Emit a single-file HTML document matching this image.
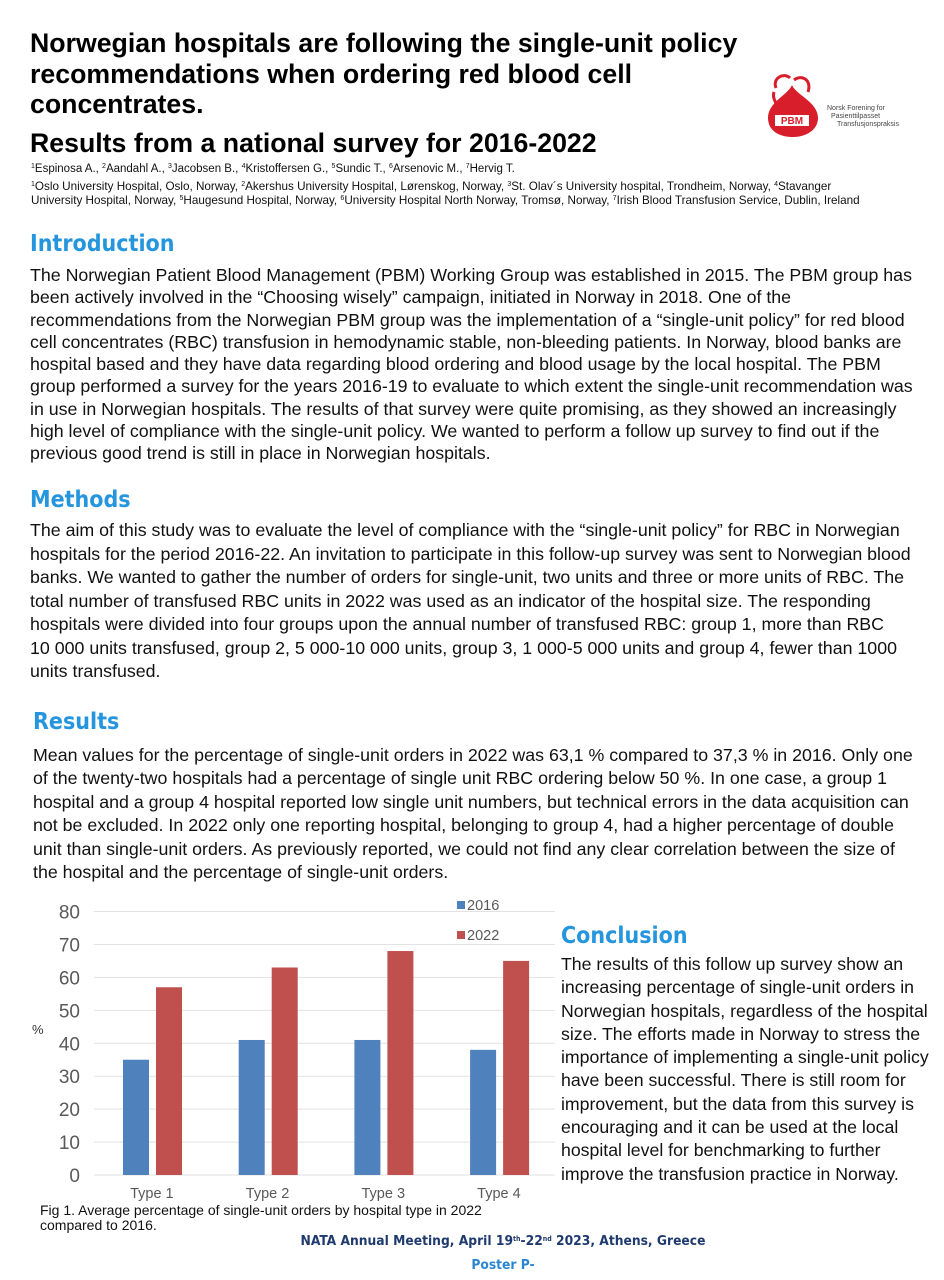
<!DOCTYPE html>
<html><head><meta charset="utf-8">
<style>
*{margin:0;padding:0;box-sizing:border-box}
body{width:944px;height:1280px;background:#fff;position:relative;overflow:hidden;font-family:"Liberation Sans",Arial,sans-serif;color:#111}
.a{position:absolute;white-space:nowrap}
.t{font-weight:bold;font-size:26.7px;line-height:30.5px;color:#000}
.h{font-weight:bold;font-size:23px;color:#2596dd;font-family:"DejaVu Sans Condensed","Liberation Sans",sans-serif}
.p{font-size:17.8px;line-height:22.3px}
.s{font-size:11.7px;line-height:14px}
sup{font-size:7px;vertical-align:4px;line-height:0}
</style></head><body>
<div class="a t" style="left:30px;top:28px">Norwegian hospitals are following the single-unit policy<br>recommendations when ordering red blood cell<br>concentrates.</div>
<div class="a t" style="left:30px;top:128px">Results from a national survey for 2016-2022</div>
<div class="a s" style="left:31px;top:162px;font-size:11.5px"><sup>1</sup>Espinosa A., <sup>2</sup>Aandahl A., <sup>3</sup>Jacobsen B., <sup>4</sup>Kristoffersen G., <sup>5</sup>Sundic T., <sup>6</sup>Arsenovic M., <sup>7</sup>Hervig T.</div>
<div class="a s" style="left:31px;top:180px"><sup>1</sup>Oslo University Hospital, Oslo, Norway, <sup>2</sup>Akershus University Hospital, Lørenskog, Norway, <sup>3</sup>St. Olav´s University hospital, Trondheim, Norway, <sup>4</sup>Stavanger<br>University Hospital, Norway, <sup>5</sup>Haugesund Hospital, Norway, <sup>6</sup>University Hospital North Norway, Tromsø, Norway, <sup>7</sup>Irish Blood Transfusion Service, Dublin, Ireland</div>

<svg class="a" style="left:762px;top:70px" width="180" height="70" viewBox="0 0 180 70">
<path d="M30 15 C34 25 56 32 56 48 C56 60 44 67 31 67 C16 67 6 60 6 48 C6 32 26 25 30 15Z" fill="#d81e2a"/>
<path d="M14 18 C10 8 22 2 28 8 M32 10 C40 4 50 10 46 22 M12 22 C10 28 14 32 16 38" stroke="#d81e2a" stroke-width="3" fill="none"/>
<rect x="13" y="45" width="34" height="11" fill="#fff"/>
<text x="30" y="54" text-anchor="middle" font-size="10" font-weight="bold" fill="#d81e2a" font-family="Liberation Sans">PBM</text>
<text x="65" y="40" font-size="7" fill="#444" font-family="Liberation Sans">Norsk Forening for</text>
<text x="69" y="48" font-size="7" fill="#444" font-family="Liberation Sans">Pasienttilpasset</text>
<text x="75" y="56" font-size="7" fill="#444" font-family="Liberation Sans">Transfusjonspraksis</text>
</svg>

<div class="a h" style="left:30px;top:231px">Introduction</div>
<div class="a p" style="left:30px;top:264px">The Norwegian Patient Blood Management (PBM) Working Group was established in 2015. The PBM group has<br>been actively involved in the “Choosing wisely” campaign, initiated in Norway in 2018. One of the<br>recommendations from the Norwegian PBM group was the implementation of a “single-unit policy” for red blood<br>cell concentrates (RBC) transfusion in hemodynamic stable, non-bleeding patients. In Norway, blood banks are<br>hospital based and they have data regarding blood ordering and blood usage by the local hospital. The PBM<br>group performed a survey for the years 2016-19 to evaluate to which extent the single-unit recommendation was<br>in use in Norwegian hospitals. The results of that survey were quite promising, as they showed an increasingly<br>high level of compliance with the single-unit policy. We wanted to perform a follow up survey to find out if the<br>previous good trend is still in place in Norwegian hospitals.</div>

<div class="a h" style="left:30px;top:487px">Methods</div>
<div class="a p" style="left:30px;top:519px;line-height:23.5px">The aim of this study was to evaluate the level of compliance with the “single-unit policy” for RBC in Norwegian<br>hospitals for the period 2016-22. An invitation to participate in this follow-up survey was sent to Norwegian blood<br>banks. We wanted to gather the number of orders for single-unit, two units and three or more units of RBC. The<br>total number of transfused RBC units in 2022 was used as an indicator of the hospital size. The responding<br>hospitals were divided into four groups upon the annual number of transfused RBC: group 1, more than RBC<br>10 000 units transfused, group 2, 5 000-10 000 units, group 3, 1 000-5 000 units and group 4, fewer than 1000<br>units transfused.</div>

<div class="a h" style="left:33px;top:709px">Results</div>
<div class="a p" style="left:33px;top:744px;line-height:23.4px">Mean values for the percentage of single-unit orders in 2022 was 63,1 % compared to 37,3 % in 2016. Only one<br>of the twenty-two hospitals had a percentage of single unit RBC ordering below 50 %. In one case, a group 1<br>hospital and a group 4 hospital reported low single unit numbers, but technical errors in the data acquisition can<br>not be excluded. In 2022 only one reporting hospital, belonging to group 4, had a higher percentage of double<br>unit than single-unit orders. As previously reported, we could not find any clear correlation between the size of<br>the hospital and the percentage of single-unit orders.</div>

<svg class="a" id="chart" style="left:0;top:890px" width="560" height="320"></svg>
<div class="a" style="left:40px;top:1203px;font-size:14px;line-height:15px">Fig 1. Average percentage of single-unit orders by hospital type in 2022<br>compared to 2016.</div>

<div class="a h" style="left:561px;top:923px">Conclusion</div>
<div class="a p" style="left:561px;top:953px;line-height:23.3px;font-size:17.7px">The results of this follow up survey show an<br>increasing percentage of single-unit orders in<br>Norwegian hospitals, regardless of the hospital<br>size. The efforts made in Norway to stress the<br>importance of implementing a single-unit policy<br>have been successful. There is still room for<br>improvement, but the data from this survey is<br>encouraging and it can be used at the local<br>hospital level for benchmarking to further<br>improve the transfusion practice in Norway.</div>

<div class="a" style="left:0;width:1006px;text-align:center;top:1233px;font-size:13.7px;font-weight:bold;color:#1f3a6e;font-family:'DejaVu Sans Condensed','Liberation Sans',sans-serif">NATA Annual Meeting, April 19<sup>th</sup>-22<sup>nd</sup> 2023, Athens, Greece</div>
<div class="a" style="left:0;width:1006px;text-align:center;top:1257px;font-size:13.7px;font-weight:bold;color:#2a86d0;font-family:'DejaVu Sans Condensed','Liberation Sans',sans-serif">Poster P-</div>

<script>
const categories=["Type 1","Type 2","Type 3","Type 4"];
const values2016=[35,41,41,38];
const values2022=[57,63,68,65];
const yTicks=[0,10,20,30,40,50,60,70,80];
const seriesNames=["2016","2022"];
const NS="http://www.w3.org/2000/svg";
const svg=document.getElementById("chart");
const x0=94,bandW=115.7,yBase=285,yScale=263.5/80;
const y=v=>yBase-v*yScale;
const bx=(i,s)=>x0+i*bandW+29+s*33;
function mk(t,a){const e=document.createElementNS(NS,t);for(const k in a)e.setAttribute(k,a[k]);svg.appendChild(e);return e;}
yTicks.forEach(t=>{
 const l=mk("line",{x1:x0,x2:555,y1:y(t),y2:y(t),stroke:"#e2e2e2","stroke-width":1});
 
 
 const tx=mk("text",{x:80,y:y(t)+7,"text-anchor":"end","font-size":19,fill:"#595959","font-family":"Liberation Sans"});
 tx.textContent=t;
 
 
});
const yl=mk("text",{x:32,y:144,"font-size":13,fill:"#333","font-family":"Liberation Sans"});yl.textContent="%";


const cols=["#4f81bd","#c0504d"];
[values2016,values2022].forEach((arr,s)=>arr.forEach((v,i)=>{
 const r=mk("rect",{x:bx(i,s),y:y(v),width:26,height:v*yScale,fill:cols[s]});
 
 
}));
categories.forEach((c,i)=>{
 const t=mk("text",{x:x0+i*bandW+bandW/2,y:308,"text-anchor":"middle","font-size":14.5,fill:"#595959","font-family":"Liberation Sans"});
 t.textContent=c;
 
 
});
seriesNames.forEach((n,s)=>{
 const r=mk("rect",{x:457,y:11+s*30,width:8,height:8,fill:cols[s]});
 
 
 const t=mk("text",{x:467,y:20+s*30,"font-size":14.5,fill:"#595959","font-family":"Liberation Sans"});
 t.textContent=n;
 
 
});
</script>
</body></html>
